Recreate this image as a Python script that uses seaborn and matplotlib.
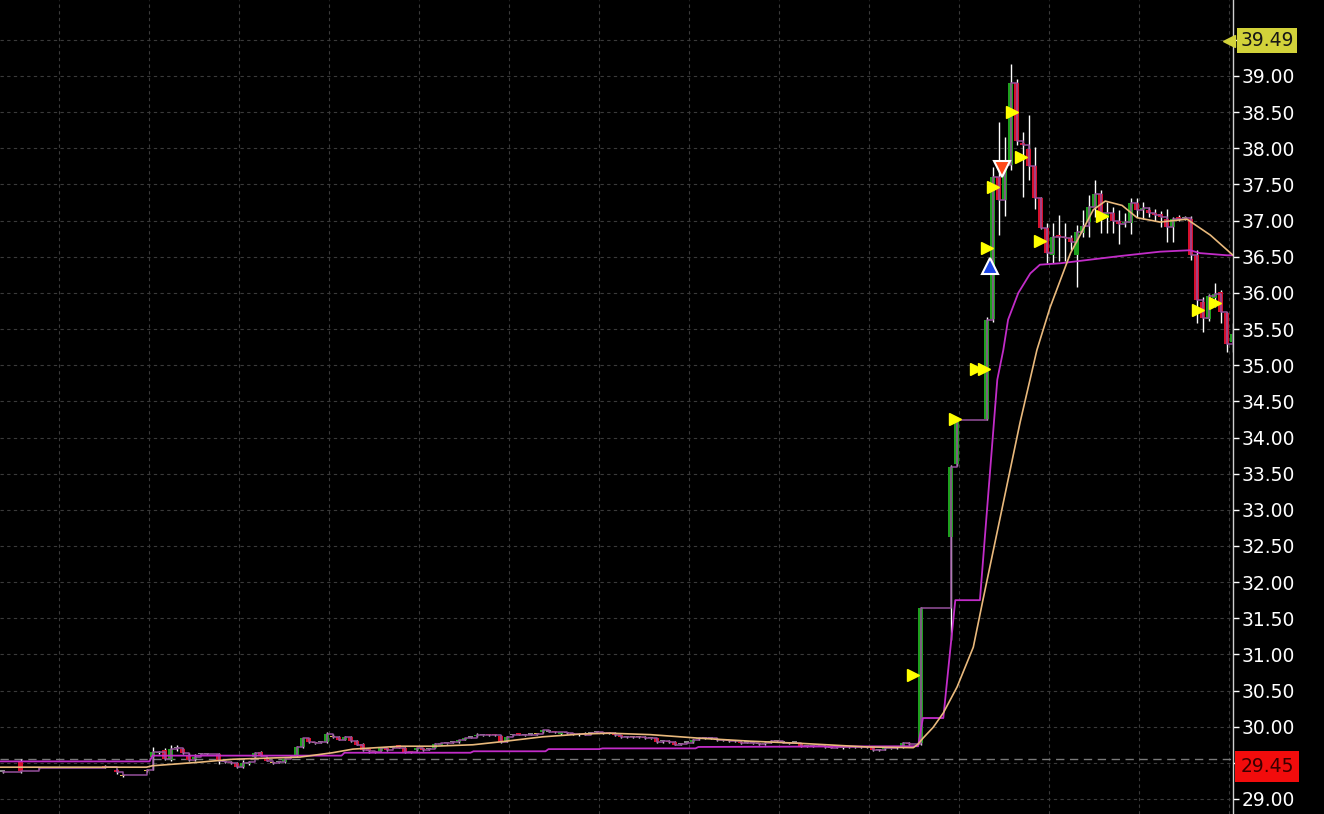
import numpy as np
import matplotlib
matplotlib.use("Agg")
import matplotlib.pyplot as plt
import matplotlib.transforms as mtransforms
import seaborn as sns

# ---------------- data ----------------
# quiet session before the spike (bar slot index, OHLC)
pre_slot = [0, 3, 6, 17, 19, 20, 24, 25, 26, 27, 28, 29, 30, 31, 32, 33, 34, 36, 37, 38, 39, 40, 41, 42, 43,
            44, 45, 46, 47, 48, 49, 50, 51, 52, 53, 54, 55, 56, 57, 58, 59, 60, 61, 62, 63, 64, 65, 66, 67, 68,
            69, 70, 71, 72, 73, 74, 75, 76, 77, 78, 79, 80, 81, 82, 83, 84, 85, 86, 87, 88, 89, 90, 91, 92, 93,
            94, 95, 96, 97, 98, 99, 100, 101, 102, 103, 104, 105, 106, 107, 108, 109, 110, 111, 112, 113, 114,
            115, 116, 117, 118, 119, 120, 121, 122, 123, 124, 125, 126, 127, 128, 129, 130, 131, 132, 133, 134,
            135, 136, 137, 138, 139, 140, 141, 142, 143, 144, 145, 146, 147, 148, 149, 150, 151]
pre_open = [29.38, 29.53, 29.43, 29.46, 29.40, 29.32, 29.39, 29.58, 29.63, 29.68, 29.54, 29.70, 29.69, 29.60,
            29.56, 29.62, 29.62, 29.62, 29.51, 29.51, 29.50, 29.44, 29.48, 29.58, 29.65, 29.57, 29.50, 29.51,
            29.51, 29.59, 29.59, 29.72, 29.84, 29.77, 29.79, 29.79, 29.86, 29.86, 29.82, 29.86, 29.80, 29.76,
            29.68, 29.66, 29.67, 29.70, 29.71, 29.74, 29.71, 29.66, 29.68, 29.70, 29.69, 29.71, 29.75, 29.77,
            29.79, 29.79, 29.82, 29.85, 29.87, 29.88, 29.89, 29.89, 29.87, 29.80, 29.88, 29.90, 29.88, 29.89,
            29.90, 29.92, 29.93, 29.93, 29.90, 29.91, 29.90, 29.88, 29.90, 29.91, 29.92, 29.91, 29.92, 29.91,
            29.88, 29.86, 29.86, 29.86, 29.86, 29.84, 29.84, 29.80, 29.80, 29.79, 29.76, 29.78, 29.79, 29.83,
            29.84, 29.84, 29.83, 29.81, 29.81, 29.80, 29.79, 29.78, 29.77, 29.76, 29.76, 29.79, 29.80, 29.78,
            29.77, 29.78, 29.76, 29.73, 29.73, 29.74, 29.72, 29.71, 29.72, 29.70, 29.72, 29.72, 29.72, 29.72,
            29.72, 29.68, 29.69, 29.70, 29.70, 29.71, 29.78]
pre_high = [29.40, 29.55, 29.44, 29.47, 29.41, 29.34, 29.41, 29.72, 29.67, 29.70, 29.74, 29.74, 29.70, 29.64,
            29.62, 29.64, 29.63, 29.64, 29.52, 29.52, 29.51, 29.54, 29.52, 29.65, 29.66, 29.58, 29.51, 29.52,
            29.56, 29.60, 29.73, 29.85, 29.85, 29.78, 29.80, 29.92, 29.90, 29.87, 29.87, 29.87, 29.81, 29.77,
            29.69, 29.67, 29.71, 29.71, 29.72, 29.75, 29.72, 29.67, 29.71, 29.71, 29.70, 29.77, 29.78, 29.78,
            29.80, 29.82, 29.85, 29.86, 29.91, 29.89, 29.90, 29.90, 29.88, 29.87, 29.89, 29.91, 29.89, 29.90,
            29.91, 29.96, 29.94, 29.94, 29.93, 29.92, 29.91, 29.91, 29.92, 29.92, 29.93, 29.92, 29.93, 29.92,
            29.89, 29.87, 29.87, 29.87, 29.87, 29.85, 29.85, 29.81, 29.81, 29.80, 29.77, 29.79, 29.83, 29.85,
            29.85, 29.85, 29.84, 29.82, 29.82, 29.81, 29.80, 29.79, 29.78, 29.77, 29.79, 29.81, 29.81, 29.79,
            29.78, 29.79, 29.77, 29.74, 29.74, 29.75, 29.73, 29.72, 29.73, 29.73, 29.73, 29.73, 29.73, 29.73,
            29.73, 29.69, 29.72, 29.71, 29.73, 29.79, 29.79]
pre_low = [29.36, 29.36, 29.42, 29.43, 29.35, 29.31, 29.38, 29.40, 29.62, 29.54, 29.53, 29.67, 29.62, 29.52,
           29.53, 29.61, 29.61, 29.49, 29.50, 29.49, 29.43, 29.43, 29.47, 29.57, 29.59, 29.52, 29.49, 29.50,
           29.50, 29.58, 29.58, 29.71, 29.78, 29.76, 29.78, 29.77, 29.85, 29.81, 29.81, 29.79, 29.74, 29.67,
           29.63, 29.64, 29.66, 29.67, 29.70, 29.70, 29.64, 29.64, 29.67, 29.67, 29.68, 29.70, 29.74, 29.76,
           29.78, 29.78, 29.81, 29.84, 29.86, 29.87, 29.87, 29.87, 29.78, 29.79, 29.87, 29.88, 29.87, 29.88,
           29.89, 29.91, 29.92, 29.91, 29.89, 29.90, 29.89, 29.87, 29.88, 29.90, 29.91, 29.90, 29.90, 29.87,
           29.85, 29.85, 29.85, 29.85, 29.83, 29.83, 29.78, 29.77, 29.78, 29.74, 29.75, 29.77, 29.78, 29.82,
           29.83, 29.83, 29.80, 29.80, 29.79, 29.79, 29.76, 29.77, 29.76, 29.75, 29.75, 29.78, 29.79, 29.77,
           29.76, 29.77, 29.72, 29.72, 29.72, 29.73, 29.71, 29.70, 29.71, 29.69, 29.71, 29.71, 29.71, 29.71,
           29.67, 29.67, 29.68, 29.69, 29.69, 29.70, 29.75]
pre_close = [29.38, 29.39, 29.43, 29.44, 29.37, 29.33, 29.40, 29.65, 29.65, 29.55, 29.69, 29.70, 29.63, 29.54,
             29.58, 29.62, 29.62, 29.53, 29.51, 29.50, 29.44, 29.50, 29.51, 29.64, 29.60, 29.53, 29.50, 29.51,
             29.55, 29.59, 29.72, 29.84, 29.79, 29.77, 29.79, 29.90, 29.86, 29.82, 29.86, 29.80, 29.75, 29.68,
             29.67, 29.65, 29.70, 29.68, 29.71, 29.71, 29.65, 29.65, 29.70, 29.68, 29.69, 29.76, 29.77, 29.77,
             29.79, 29.81, 29.84, 29.85, 29.89, 29.88, 29.88, 29.88, 29.79, 29.86, 29.88, 29.89, 29.88, 29.89,
             29.90, 29.95, 29.93, 29.92, 29.92, 29.91, 29.90, 29.90, 29.89, 29.91, 29.92, 29.91, 29.91, 29.88,
             29.86, 29.86, 29.86, 29.86, 29.84, 29.84, 29.79, 29.80, 29.79, 29.75, 29.76, 29.78, 29.82, 29.84,
             29.84, 29.84, 29.81, 29.81, 29.80, 29.80, 29.77, 29.78, 29.77, 29.76, 29.78, 29.80, 29.80, 29.78,
             29.77, 29.78, 29.73, 29.73, 29.73, 29.74, 29.72, 29.71, 29.72, 29.72, 29.72, 29.72, 29.72, 29.72,
             29.68, 29.68, 29.71, 29.70, 29.72, 29.78, 29.76]

# the run-up and afterwards
run_slot = [153, 158, 159, 164, 165, 166, 167, 168, 169, 170, 171, 172, 173, 174, 175, 176, 177, 178, 179, 180,
            181, 182, 183, 184, 185, 186, 187, 188, 189, 190, 191, 192, 193, 194, 195, 196, 197, 198, 199, 200,
            201, 202, 203, 204, 205]
run_open = [29.77, 32.62, 33.63, 34.26, 35.64, 37.60, 37.28, 37.77, 38.91, 38.08, 37.99, 37.75, 37.31, 36.90,
            36.52, 36.80, 36.78, 36.76, 36.52, 36.83, 36.98, 37.19, 37.37, 37.04, 37.11, 37.00, 36.96, 36.96,
            37.24, 37.15, 37.15, 37.11, 37.09, 37.02, 36.91, 37.05, 37.03, 37.02, 36.52, 35.88, 35.64, 35.93,
            36.01, 35.72, 35.32]
run_high = [31.65, 33.62, 34.26, 35.67, 37.74, 38.36, 38.16, 39.17, 38.96, 38.22, 38.46, 38.02, 37.33, 36.97,
            36.97, 37.08, 36.97, 36.80, 36.94, 37.15, 37.35, 37.56, 37.42, 37.26, 37.19, 37.15, 37.11, 37.31,
            37.31, 37.26, 37.19, 37.16, 37.13, 37.16, 37.05, 37.08, 37.06, 37.06, 36.59, 35.95, 35.98, 36.14,
            36.04, 35.73, 35.58]
run_low = [29.75, 31.20, 33.60, 34.24, 35.60, 36.80, 37.07, 37.70, 38.05, 37.33, 37.56, 37.16, 36.88, 36.41,
           36.41, 36.44, 36.44, 36.60, 36.08, 36.77, 36.78, 37.05, 36.83, 36.83, 36.83, 36.68, 36.91, 36.81,
           37.05, 37.02, 37.05, 37.00, 36.91, 36.71, 36.71, 37.00, 37.01, 36.45, 35.58, 35.46, 35.61, 35.80,
           35.58, 35.18, 35.18]
run_close = [31.64, 33.59, 34.24, 35.63, 37.60, 37.28, 37.77, 38.90, 38.10, 38.04, 37.76, 37.31, 36.90, 36.55,
             36.77, 36.78, 36.76, 36.70, 36.84, 36.92, 37.19, 37.37, 37.11, 37.11, 37.00, 36.95, 36.98, 37.24,
             37.15, 37.17, 37.11, 37.08, 37.05, 36.91, 37.02, 37.02, 37.03, 36.52, 35.90, 35.65, 35.96, 35.98,
             35.73, 35.29, 35.43]

yellow_slots = [20, 24, 45, 52, 55, 89, 105, 106, 129, 138]

# moving average (tan)
ema_x = [-0.4, 16.3, 24.0, 25.0, 33.0, 38.4, 49.6, 55.0, 58.4, 66.3, 71.8, 78.4, 82.9, 90.0, 96.8, 101.3,
         108.0, 116.3, 124.6, 133.0, 144.0, 151.8, 152.6, 153.4, 155.1, 156.8, 159.1, 161.8, 163.4, 166.3,
         169.6, 172.4, 174.6, 178.0, 179.6, 181.8, 183.8, 186.6, 189.1, 192.9, 197.4, 201.3, 205.1]
ema_y = [29.44, 29.44, 29.44, 29.46, 29.51, 29.55, 29.58, 29.64, 29.69, 29.73, 29.73, 29.75, 29.79, 29.86,
         29.90, 29.91, 29.89, 29.84, 29.80, 29.77, 29.72, 29.71, 29.76, 29.84, 29.99, 30.19, 30.55, 31.10,
         31.75, 32.90, 34.21, 35.21, 35.80, 36.55, 36.80, 37.15, 37.27, 37.21, 37.04, 36.98, 37.02, 36.80, 36.52]

# volume weighted average (magenta)
vw_x = [-0.4, 24.5, 25.0, 56.5, 57.0, 78.0, 78.5, 90.5, 91.0, 99.5, 100.0, 115.5, 116.0, 152.6, 153.4, 156.8,
        158.8, 162.9, 165.8, 166.8, 167.6, 169.3, 171.3, 172.9, 176.3, 186.3, 192.9, 197.9, 199.6, 204.1, 205.1]
vw_y = [29.52, 29.52, 29.60, 29.60, 29.64, 29.64, 29.66, 29.66, 29.69, 29.69, 29.70, 29.70, 29.72, 29.73,
        30.12, 30.12, 31.75, 31.75, 34.80, 35.21, 35.63, 36.00, 36.27, 36.39, 36.41, 36.51, 36.57, 36.59,
        36.55, 36.52, 36.52]

# signal markers
sig_x = [151.8, 158.7, 162.3, 163.6, 164.1, 165.1, 168.25, 169.75, 172.9, 183.25, 199.25, 202.1]
sig_y = [30.72, 34.26, 34.95, 34.95, 36.62, 37.46, 38.50, 37.88, 36.72, 37.06, 35.76, 35.86]
buy_x, buy_y = [164.6], [36.37]
sell_x, sell_y = [166.6], [37.71]

prev_close = 29.55
high_label = 39.49
low_label = 29.45
y_ticks = [29.0, 29.5, 30.0, 30.5, 31.0, 31.5, 32.0, 32.5, 33.0, 33.5, 34.0, 34.5, 35.0, 35.5, 36.0, 36.5,
           37.0, 37.5, 38.0, 38.5, 39.0, 39.5]

# ---------------- drawing ----------------
sns.set_theme(style="dark")
plt.rcParams['font.family'] = ['DejaVu Sans']

W, H = 1324, 814
fig = plt.figure(figsize=(W / 100, H / 100), dpi=100)
fig.patch.set_facecolor('black')
ax = fig.add_axes([0, 0, 1233 / W, 1])
ax.set_facecolor('black')

slots = np.array(pre_slot + run_slot, dtype=float)
o = np.array(pre_open + run_open)
h = np.array(pre_high + run_high)
l = np.array(pre_low + run_low)
c = np.array(pre_close + run_close)

GREEN, RED, GREY, YELLOW = '#1ea01e', '#d7102e', '#8a8a8a', '#e2c24a'
colors = []
for s, oo, cc in zip(slots, o, c):
    if int(s) in yellow_slots:
        colors.append(YELLOW)
    elif cc > oo:
        colors.append(GREEN)
    elif cc < oo:
        colors.append(RED)
    else:
        colors.append(GREY)
bottoms = np.minimum(o, c)
heights = np.maximum(np.abs(c - o), 0.018)

ax.vlines(slots, l, h, color='white', lw=1.0, zorder=2)
ax.bar(slots, heights, bottom=bottoms, width=0.92, color=colors, linewidth=0, zorder=3)

# close line (steps between trades)
ax.plot(slots, c, drawstyle='steps-post', color='#96509c', lw=1.1, zorder=4)

sns.lineplot(x=vw_x, y=vw_y, ax=ax, color='#c22cc8', lw=1.3, sort=False, estimator=None, zorder=5)
sns.lineplot(x=ema_x, y=ema_y, ax=ax, color='#e9b97c', lw=1.2, sort=False, estimator=None, zorder=5)

ax.axhline(prev_close, color='#7a7a7a', lw=1.0, ls=(0, (6, 4)), zorder=1)

ax.plot(sig_x, sig_y, ls='none', marker='>', ms=9, color='#ffff00', mec='#ffff00', zorder=7)
ax.plot(buy_x, buy_y, ls='none', marker='^', ms=12, color='#1a44e6', mec='white', mew=1.5, zorder=8)
ax.plot(sell_x, sell_y, ls='none', marker='v', ms=12, color='#ff4a1a', mec='white', mew=1.5, zorder=8)

ax.set_xlim(-2.5 / 6, (1233 - 2.5) / 6)
ax.set_ylim(29 - 15 / 72.3, 29 + 799 / 72.3)

ax.set_xticks(np.arange(59 - 2.5, 1233, 90) / 6)
ax.set_xticklabels([])
ax.set_yticks(y_ticks)
ax.set_yticklabels(['' if abs(v - 39.5) < 1e-6 else f'{v:.2f}' for v in y_ticks])
ax.yaxis.tick_right()
ax.tick_params(axis='y', colors='white', labelcolor='white', labelsize=13.5, length=4, width=1, pad=2,
               direction='out')
ax.tick_params(axis='x', length=0)
ax.grid(True, color='#3a3a3a', ls=(0, (3, 3)), lw=0.8)
ax.set_axisbelow(True)
ax.set_xlabel('')
ax.set_ylabel('')
for side in ['top', 'left', 'bottom']:
    ax.spines[side].set_visible(False)
ax.spines['right'].set_color('#cfcfcf')
ax.spines['right'].set_linewidth(1.0)

trans = mtransforms.blended_transform_factory(ax.transAxes, ax.transData)
ax.text(1.0058, high_label, f'{high_label:.2f}', transform=trans, fontsize=13.5, color='#161616',
        va='center', ha='left', clip_on=False, zorder=10,
        bbox=dict(boxstyle='square,pad=0.18', fc='#d2d23a', ec='none'))
ax.plot([1229 / 1233], [high_label], marker='<', ms=9, color='#d2d23a', transform=trans, clip_on=False,
        zorder=10)
ax.text(1.0058, low_label, f'{low_label:.2f}', transform=trans, fontsize=13.5, color='#3a0000',
        va='center', ha='left', clip_on=False, zorder=10,
        bbox=dict(boxstyle='square,pad=0.3', fc='#f20c0c', ec='none'))

fig.savefig('out.png', dpi=100, facecolor='black')
